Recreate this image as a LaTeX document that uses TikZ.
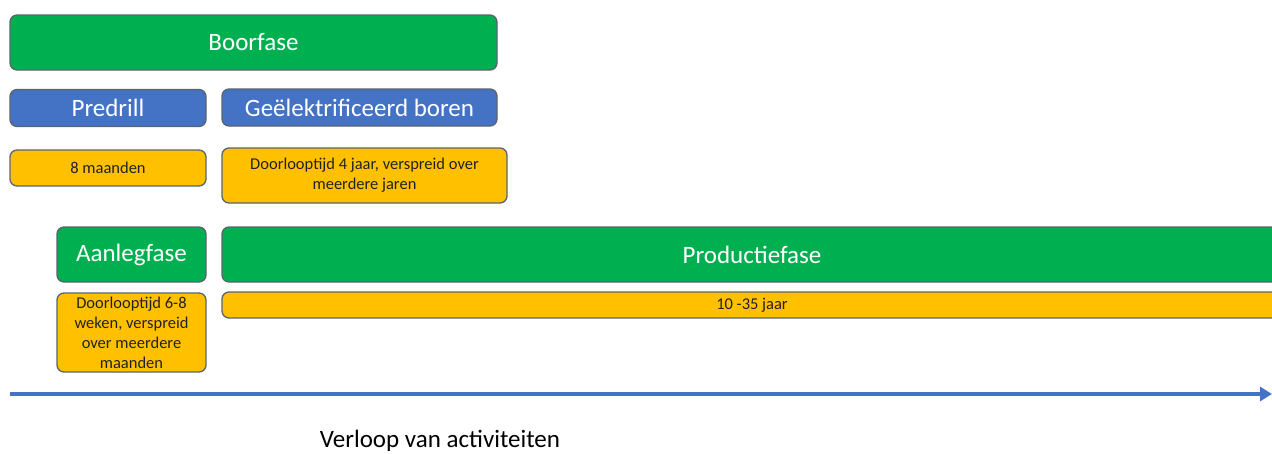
\documentclass[tikz,border=0pt]{standalone}
\usepackage{fontspec}
\setmainfont{Carlito}
\usetikzlibrary{arrows.meta}
\definecolor{pgreen}{HTML}{00B050}
\definecolor{pblue}{HTML}{4472C4}
\definecolor{pyellow}{HTML}{FFC000}
\definecolor{pborder}{HTML}{5A6470}
\definecolor{ptext}{HTML}{222222}
\tikzset{
  box/.style={draw=pborder, line width=1.3pt, rounded corners=7pt, inner sep=0pt, outer sep=0pt},
  bigbox/.style={box, text=white, font=\fontsize{25}{30}\selectfont},
  greenbox/.style={bigbox, fill=pgreen},
  bluebox/.style={bigbox, fill=pblue},
  yellowbox/.style={box, fill=pyellow, text=ptext, align=center, font=\fontsize{16.5}{20}\selectfont},
  timeline/.style={draw=pblue, line width=4pt, -{Triangle[length=12pt,width=14pt]}},
}
\begin{document}
\begin{tikzpicture}[x=1pt,y=-1pt]
\useasboundingbox (0,0) rectangle (1272,453);
\clip (0,0) rectangle (1272,453);
\node[greenbox, minimum width=487pt, minimum height=55pt] (boor) at (253.5,42.5) {Boorfase};
\node[bluebox, minimum width=196pt, minimum height=37pt] (pre) at (108,108) {Predrill};
\node[bluebox, minimum width=275pt, minimum height=37pt] (gel) at (359.5,107.5) {Geëlektrificeerd boren};
\node[yellowbox, minimum width=196pt, minimum height=36pt] (acht) at (108,168) {8 maanden};
\node[yellowbox, minimum width=285pt, minimum height=55pt] (vier) at (364.5,175.5) {Doorlooptijd 4 jaar, verspreid over\\meerdere jaren};
\node[greenbox, minimum width=149pt, minimum height=55pt] (aanleg) at (131.5,254.5) {Aanlegfase};
\node[greenbox, minimum width=1060pt, minimum height=55pt] (prod) at (752,254.5) {Productiefase};
\node[yellowbox, minimum width=1060pt, minimum height=26pt] (jaar) at (752,305) {10 -35 jaar};
\node[yellowbox, minimum width=149pt, minimum height=79pt] (weken) at (131.5,332.5) {Doorlooptijd 6-8\\weken, verspreid\\over meerdere\\maanden};
\coordinate (tstart) at (10,394);
\coordinate (tend) at (1272,394);
\draw[timeline] (tstart) -- (tend);
\node[text=black, font=\fontsize{25}{30}\selectfont, inner sep=0pt] (cap) at (440,441) {Verloop van activiteiten};
\end{tikzpicture}
\end{document}
